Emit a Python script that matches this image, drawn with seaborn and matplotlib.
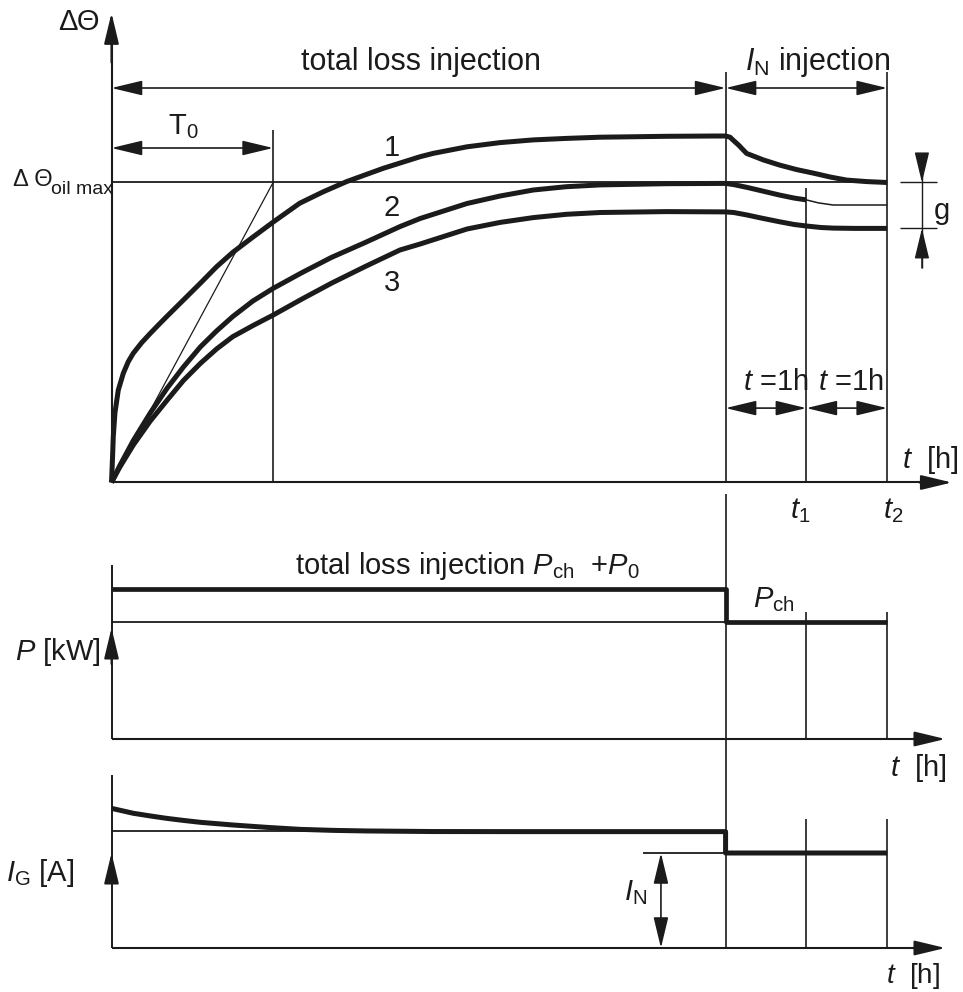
import matplotlib
matplotlib.use("Agg")
import matplotlib.pyplot as plt
import seaborn as sns

sns.set_theme(style="white")
plt.rcParams["font.family"] = ["Liberation Sans", "DejaVu Sans"]
plt.rcParams["mathtext.fontset"] = "custom"
plt.rcParams["mathtext.rm"] = "Liberation Sans"
plt.rcParams["mathtext.it"] = "Liberation Sans:italic"
plt.rcParams["mathtext.bf"] = "Liberation Sans:bold"

INK = "#1b1b1b"

# ---------------------------------------------------------------- time marks [h]
T0_H = 2.0
T_SWITCH = 7.6
T1 = 8.6
T2 = 9.6

# ------------------------------------------- temperature rise (ΔΘ_oil max = 1)
curve1_t = [0.0, 0.015, 0.022, 0.043, 0.084, 0.146, 0.208, 0.27, 0.373, 0.476,
            0.58, 0.683, 0.889, 1.095, 1.3, 1.5, 1.755, 2.0, 2.33, 2.62, 2.91,
            3.36, 3.82, 3.98, 4.4, 4.81, 5.22, 5.63, 6.05, 6.87, 7.5, 7.6, 7.655,
            7.69, 7.76, 7.86, 8.07, 8.27, 8.48, 8.69, 8.9, 9.1, 9.35, 9.6]
curve1_v = [0.0, 0.098, 0.152, 0.233, 0.308, 0.364, 0.403, 0.431, 0.466, 0.496,
            0.525, 0.553, 0.608, 0.663, 0.719, 0.767, 0.819, 0.868, 0.931, 0.969,
            1.003, 1.047, 1.086, 1.097, 1.119, 1.133, 1.142, 1.147, 1.151, 1.154,
            1.155, 1.155, 1.151, 1.142, 1.125, 1.097, 1.075, 1.058, 1.043, 1.031,
            1.018, 1.008, 1.003, 1.0]

curve2_t = [0.0, 0.1, 0.27, 0.48, 0.69, 0.89, 1.1, 1.3, 1.5, 1.75, 2.0, 2.36,
            2.72, 3.14, 3.57, 3.82, 4.4, 4.81, 5.22, 5.63, 6.05, 6.87, 7.6, 7.7,
            7.86, 8.05, 8.27, 8.45, 8.6]
curve2_v = [0.0, 0.055, 0.14, 0.232, 0.315, 0.385, 0.452, 0.505, 0.553, 0.605,
            0.647, 0.70, 0.75, 0.80, 0.853, 0.88, 0.93, 0.955, 0.975, 0.986,
            0.992, 0.996, 0.997, 0.993, 0.984, 0.972, 0.958, 0.948, 0.942]
# curve 2 after t1 (thin continuation)
curve2_tail_t = [8.6, 8.75, 8.93, 9.2, 9.6]
curve2_tail_v = [0.942, 0.932, 0.925, 0.925, 0.925]

curve3_t = [0.0, 0.1, 0.27, 0.48, 0.69, 0.89, 1.1, 1.3, 1.5, 1.75, 2.0, 2.36,
            2.72, 3.14, 3.57, 3.82, 4.4, 4.81, 5.22, 5.63, 6.05, 6.87, 7.6, 7.7,
            7.86, 8.05, 8.27, 8.45, 8.6, 8.78, 8.93, 9.2, 9.6]
curve3_v = [0.0, 0.05, 0.125, 0.205, 0.275, 0.34, 0.397, 0.445, 0.486, 0.523,
            0.558, 0.612, 0.664, 0.72, 0.775, 0.795, 0.845, 0.867, 0.883, 0.894,
            0.9, 0.903, 0.902, 0.9, 0.892, 0.881, 0.869, 0.86, 0.855, 0.85,
            0.848, 0.847, 0.847]

OIL_MAX = 1.0
G_LOW = 0.847

# ------------------------------------------------------- injected power P [kW]
p_t = [0.0, T_SWITCH, T_SWITCH, T2]
p_v = [1.0, 1.0, 0.78, 0.78]
P_CH = 0.78

# ------------------------------------------------------- injected current I_G
i_t = [0.0, 0.27, 0.48, 0.68, 0.89, 1.1, 1.5, 1.92, 2.33, 2.75, 3.16, 3.98, 5.0,
       T_SWITCH, T_SWITCH, T2]
i_v = [1.47, 1.418, 1.39, 1.365, 1.343, 1.323, 1.295, 1.27, 1.249, 1.238, 1.232,
       1.226, 1.225, 1.225, 1.0, 1.0]
I_FLAT = 1.228
I_N = 1.0

# ------------------------------------------------------------------ layout
W, H = 963, 992
PX_PER_H = 80.8
X_ORIGIN = 111.5
XLIM = (-X_ORIGIN / PX_PER_H, (W - X_ORIGIN) / PX_PER_H)

fig = plt.figure(figsize=(W / 100, H / 100), dpi=100)
fig.patch.set_facecolor("white")


def panel(top_px, bottom_px, origin_px, px_per_unit):
    ax = fig.add_axes([0, 1 - bottom_px / H, 1, (bottom_px - top_px) / H])
    ax.set_xlim(XLIM)
    ax.set_ylim((origin_px - bottom_px) / px_per_unit, (origin_px - top_px) / px_per_unit)
    ax.set_axis_off()
    return ax


def arrow(ax, x0, y0, x1, y1, both=False, lw=1.4):
    style = ("<|-|>" if both else "-|>") + ",head_length=1.0,head_width=0.24"
    ax.annotate("", xy=(x1, y1), xytext=(x0, y0), annotation_clip=False,
                arrowprops=dict(arrowstyle=style, color=INK, lw=lw, shrinkA=0,
                                shrinkB=0, mutation_scale=19))


def line(ax, xs, ys, lw=1.3):
    ax.plot(xs, ys, color=INK, lw=lw, clip_on=False, solid_capstyle="butt")


def curve(ax, xs, ys, lw=3.6):
    sns.lineplot(x=xs, y=ys, ax=ax, color=INK, lw=lw, estimator=None, sort=False,
                 legend=False, zorder=5, solid_capstyle="butt",
                 solid_joinstyle="round", clip_on=False)


FS = 21

# ================================================================ top panel
ax = panel(0, 532, 482.5, 300)

# axes
line(ax, [0, 0], [0, 1.50], lw=1.5)
arrow(ax, 0, 1.40, 0, 1.565, lw=1.5)
line(ax, [0, 10.2], [0, 0], lw=1.5)
arrow(ax, 10.0, 0, 10.40, 0, lw=1.5)

# construction lines
line(ax, [0, T2], [OIL_MAX, OIL_MAX], lw=1.3)
line(ax, [0, T0_H], [0, OIL_MAX], lw=0.9)
line(ax, [T0_H, T0_H], [0, 1.175], lw=1.2)
line(ax, [T_SWITCH, T_SWITCH], [0, 1.368], lw=1.2)
line(ax, [T_SWITCH, T_SWITCH], [-0.038, -1.552], lw=1.2)
line(ax, [T1, T1], [0, 0.982], lw=1.2)
line(ax, [T2, T2], [0, 1.368], lw=1.2)

# curves
curve(ax, curve1_t, curve1_v)
curve(ax, curve2_t, curve2_v)
curve(ax, curve2_tail_t, curve2_tail_v, lw=1.1)
curve(ax, curve3_t, curve3_v)

# dimension arrows
arrow(ax, 0, 1.315, T_SWITCH, 1.315, both=True, lw=1.2)
arrow(ax, T_SWITCH, 1.315, T2, 1.315, both=True, lw=1.2)
arrow(ax, 0, 1.115, T0_H, 1.115, both=True, lw=1.2)
arrow(ax, T_SWITCH, 0.248, T1, 0.248, both=True, lw=1.2)
arrow(ax, T1, 0.248, T2, 0.248, both=True, lw=1.2)

# g bracket
line(ax, [9.76, 10.22], [OIL_MAX, OIL_MAX], lw=1.0)
line(ax, [9.76, 10.22], [G_LOW, G_LOW], lw=1.0)
line(ax, [10.03, 10.03], [0.715, 1.092], lw=1.0)
arrow(ax, 10.03, 1.092, 10.03, OIL_MAX, lw=1.0)
arrow(ax, 10.03, 0.715, 10.03, G_LOW, lw=1.0)
ax.text(10.28, 0.905, "g", fontsize=FS, ha="center", va="center", color=INK)

# texts
ax.text(-0.15, 1.535, "ΔΘ", fontsize=FS, ha="right", va="center", color=INK)
ax.text(-1.22, 1.01, "Δ Θ", fontsize=17, ha="left", va="center", color=INK)
ax.text(0.02, 0.978, "oil max", fontsize=14, ha="right", va="center", color=INK)
ax.text(0.89, 1.185, r"T$_\mathrm{0}$", fontsize=FS, ha="center", va="center", color=INK)
ax.text(3.83, 1.402, "total loss injection", fontsize=22, ha="center", va="center", color=INK)
ax.text(8.74, 1.402, r"$I_\mathrm{N}$ injection", fontsize=22, ha="center", va="center", color=INK)
ax.text(3.47, 1.115, "1", fontsize=FS, ha="center", va="center", color=INK)
ax.text(3.47, 0.915, "2", fontsize=FS, ha="center", va="center", color=INK)
ax.text(3.47, 0.665, "3", fontsize=FS, ha="center", va="center", color=INK)
ax.text(8.22, 0.335, r"$t$ =1h", fontsize=FS, ha="center", va="center", color=INK)
ax.text(9.15, 0.335, r"$t$ =1h", fontsize=FS, ha="center", va="center", color=INK)
ax.text(10.13, 0.075, r"$t$  [h]", fontsize=FS, ha="center", va="center", color=INK)
ax.text(8.52, -0.095, r"$t_\mathrm{1}$", fontsize=FS, ha="center", va="center", color=INK)
ax.text(9.67, -0.095, r"$t_\mathrm{2}$", fontsize=FS, ha="center", va="center", color=INK)

# ============================================================= power panel
ax = panel(532, 772, 739, 150)
line(ax, [0, 0], [0, 1.16], lw=1.4)
arrow(ax, 0, 0.50, 0, 0.74, lw=1.4)
line(ax, [0, 10.0], [0, 0], lw=1.5)
arrow(ax, 9.9, 0, 10.32, 0, lw=1.5)
line(ax, [0, T_SWITCH], [P_CH, P_CH], lw=1.3)
line(ax, [T1, T1], [0, 0.847], lw=1.2)
line(ax, [T2, T2], [0, 0.847], lw=1.2)
curve(ax, p_t, p_v, lw=3.4)
ax.text(4.41, 1.153, r"total loss injection $P_\mathrm{ch}$  +$P_\mathrm{0}$",
        fontsize=FS, ha="center", va="center", color=INK)
ax.text(8.2, 0.93, r"$P_\mathrm{ch}$", fontsize=FS, ha="center", va="center", color=INK)
ax.text(-0.14, 0.58, r"$P$ [kW]", fontsize=FS, ha="right", va="center", color=INK)
ax.text(9.98, -0.193, r"$t$  [h]", fontsize=FS, ha="center", va="center", color=INK)

# =========================================================== current panel
ax = panel(772, 992, 948, 95)
line(ax, [0, 0], [0, 1.82], lw=1.4)
arrow(ax, 0, 0.737, 0, 1.0, lw=1.4)
line(ax, [0, 10.0], [0, 0], lw=1.5)
arrow(ax, 9.9, 0, 10.32, 0, lw=1.5)
line(ax, [0, T_SWITCH], [I_FLAT, I_FLAT], lw=1.3)
line(ax, [6.58, T_SWITCH], [I_N, I_N], lw=1.3)
arrow(ax, 6.8, 0, 6.8, I_N, both=True, lw=1.2)
line(ax, [T1, T1], [0, 1.358], lw=1.2)
line(ax, [T2, T2], [0, 1.358], lw=1.2)
curve(ax, i_t, i_v, lw=3.6)
ax.text(6.48, 0.58, r"$I_\mathrm{N}$", fontsize=FS, ha="center", va="center", color=INK)
ax.text(-1.31, 0.79, r"$I_\mathrm{G}$ [A]", fontsize=FS, ha="left", va="center", color=INK)
ax.text(9.92, -0.29, r"$t$  [h]", fontsize=20, ha="center", va="center", color=INK)

fig.savefig("out.png", dpi=100, facecolor="white")
